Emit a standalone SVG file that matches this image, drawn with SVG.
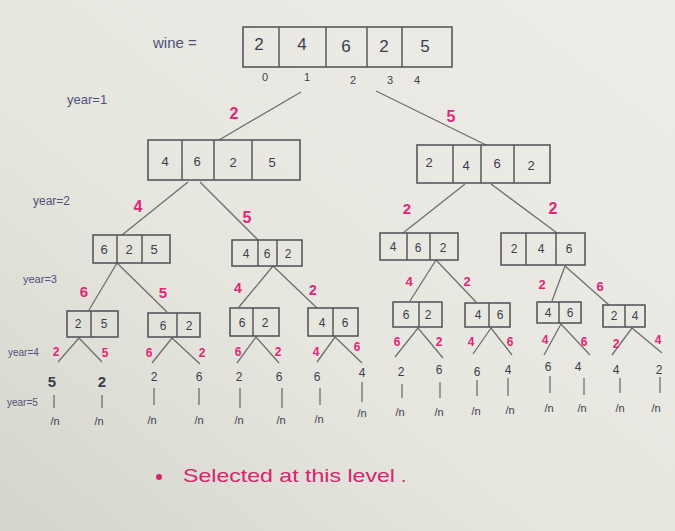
<svg xmlns="http://www.w3.org/2000/svg" width="675" height="531" viewBox="0 0 675 531">
<defs>
<linearGradient id="paper" x1="1" y1="0" x2="0" y2="1">
<stop offset="0" stop-color="#eeede8"/>
<stop offset="0.6" stop-color="#e6e5de"/>
<stop offset="1" stop-color="#d6d5cd"/>
</linearGradient>
<style>
.box{fill:none;stroke:#4e4e56;stroke-width:1.5}
.dv{stroke:#4e4e56;stroke-width:1.4}
.v{font-family:"Liberation Sans",Arial,sans-serif;fill:#3c3c4c;text-anchor:middle}
.v1{font-size:17px}
.v2{font-size:13px}
.v3{font-size:12px}
.e{stroke:#6e6e70;stroke-width:1.3;fill:none}
.l{font-family:"Liberation Sans",Arial,sans-serif;font-weight:bold;fill:#e0267a;text-anchor:middle}
.y{font-family:"Liberation Sans",Arial,sans-serif;fill:#50507a}
.n{font-family:"Liberation Sans",Arial,sans-serif;fill:#3c3c4c;font-size:11px;text-anchor:middle}
</style>
</defs>
<rect width="675" height="531" fill="url(#paper)"/>

<!-- labels not tied to nodes -->
<text class="y" x="153" y="48" font-size="15">wine =</text>
<text class="y" x="67" y="104" font-size="13">year=1</text>
<text class="y" x="33" y="205" font-size="12">year=2</text>
<text class="y" x="23" y="283" font-size="11">year=3</text>
<text class="y" x="8" y="356" font-size="10">year=4</text>
<text class="y" x="7" y="406" font-size="10">year=5</text>

<!-- connectors -->
<g id="connectors">
<line class="e" x1="301" y1="92" x2="219" y2="140"/>
<line class="e" x1="376" y1="91" x2="486" y2="145"/>
<line class="e" x1="188" y1="182" x2="122" y2="235"/>
<line class="e" x1="200" y1="182" x2="258" y2="240"/>
<line class="e" x1="465" y1="184" x2="403" y2="233"/>
<line class="e" x1="491" y1="184" x2="557" y2="233"/>
<line class="e" x1="117" y1="263" x2="89" y2="310"/>
<line class="e" x1="117" y1="263" x2="167" y2="312"/>
<line class="e" x1="273" y1="266" x2="239" y2="307"/>
<line class="e" x1="273" y1="266" x2="317" y2="308"/>
<line class="e" x1="436" y1="260" x2="410" y2="301"/>
<line class="e" x1="436" y1="260" x2="476" y2="302"/>
<line class="e" x1="565" y1="266" x2="552" y2="301"/>
<line class="e" x1="565" y1="266" x2="609" y2="305"/>
<polyline class="e" points="58,362 79,338 102,362"/>
<polyline class="e" points="152,363 172,338 200,364"/>
<polyline class="e" points="237,363 256,337 279,363"/>
<polyline class="e" points="317,362 335,337 362,363"/>
<polyline class="e" points="395,357 418,328 443,358"/>
<polyline class="e" points="473,354 491,328 512,355"/>
<polyline class="e" points="544,355 561,324 590,355"/>
<polyline class="e" points="612,355 632,328 662,353"/>
<line class="e" x1="54" y1="395" x2="54" y2="408"/>
<line class="e" x1="102" y1="395" x2="102" y2="408"/>
<line class="e" x1="154" y1="388" x2="154" y2="405"/>
<line class="e" x1="199" y1="388" x2="199" y2="405"/>
<line class="e" x1="240" y1="388" x2="240" y2="408"/>
<line class="e" x1="282" y1="388" x2="282" y2="408"/>
<line class="e" x1="320" y1="388" x2="320" y2="405"/>
<line class="e" x1="362" y1="382" x2="362" y2="402"/>
<line class="e" x1="402" y1="384" x2="402" y2="398"/>
<line class="e" x1="440" y1="382" x2="440" y2="398"/>
<line class="e" x1="477" y1="380" x2="477" y2="396"/>
<line class="e" x1="508" y1="378" x2="508" y2="396"/>
<line class="e" x1="550" y1="376" x2="550" y2="393"/>
<line class="e" x1="584" y1="378" x2="584" y2="395"/>
<line class="e" x1="620" y1="378" x2="620" y2="393"/>
<line class="e" x1="660" y1="377" x2="660" y2="393"/>
<!-- edge labels -->
<text class="l" x="234" y="119" font-size="16">2</text>
<text class="l" x="451" y="122" font-size="16">5</text>
<text class="l" x="138" y="212" font-size="16">4</text>
<text class="l" x="247" y="223" font-size="16">5</text>
<text class="l" x="407" y="214" font-size="15">2</text>
<text class="l" x="553" y="214" font-size="16">2</text>
<text class="l" x="84" y="297" font-size="15">6</text>
<text class="l" x="163" y="298" font-size="15">5</text>
<text class="l" x="238" y="293" font-size="14">4</text>
<text class="l" x="313" y="295" font-size="14">2</text>
<text class="l" x="409" y="286" font-size="13">4</text>
<text class="l" x="467" y="286" font-size="13">2</text>
<text class="l" x="542" y="289" font-size="13">2</text>
<text class="l" x="600" y="291" font-size="13">6</text>
<text class="l" x="56" y="356" font-size="12">2</text>
<text class="l" x="105" y="357" font-size="12">5</text>
<text class="l" x="149" y="357" font-size="12">6</text>
<text class="l" x="202" y="357" font-size="12">2</text>
<text class="l" x="238" y="356" font-size="12">6</text>
<text class="l" x="278" y="356" font-size="12">2</text>
<text class="l" x="316" y="356" font-size="12">4</text>
<text class="l" x="357" y="351" font-size="12">6</text>
<text class="l" x="397" y="346" font-size="12">6</text>
<text class="l" x="439" y="346" font-size="12">2</text>
<text class="l" x="471" y="346" font-size="12">4</text>
<text class="l" x="510" y="346" font-size="12">6</text>
<text class="l" x="545" y="344" font-size="12">4</text>
<text class="l" x="584" y="346" font-size="12">6</text>
<text class="l" x="616" y="348" font-size="12">2</text>
<text class="l" x="658" y="344" font-size="12">4</text>
</g>

<!-- root -->
<g id="root">
<rect class="box" x="243" y="27" width="209" height="40"/>
<line class="dv" x1="279" y1="27" x2="279" y2="67"/>
<line class="dv" x1="326" y1="27" x2="326" y2="67"/>
<line class="dv" x1="367" y1="27" x2="367" y2="67"/>
<line class="dv" x1="402" y1="27" x2="402" y2="67"/>
<text class="v v1" x="259" y="50">2</text>
<text class="v v1" x="302" y="50">4</text>
<text class="v v1" x="346" y="52">6</text>
<text class="v v1" x="384" y="52">2</text>
<text class="v v1" x="425" y="52">5</text>
<text class="n" x="265" y="81">0</text>
<text class="n" x="307" y="81">1</text>
<text class="n" x="353" y="84">2</text>
<text class="n" x="390" y="84">3</text>
<text class="n" x="417" y="84">4</text>
</g>

<!-- level 1 -->
<g id="n1">
<rect class="box" x="148" y="140" width="152" height="40"/>
<line class="dv" x1="182" y1="140" x2="182" y2="180"/>
<line class="dv" x1="214" y1="140" x2="214" y2="180"/>
<line class="dv" x1="252" y1="140" x2="252" y2="180"/>
<text class="v v2" x="165" y="166">4</text>
<text class="v v2" x="197" y="166">6</text>
<text class="v v2" x="233" y="167">2</text>
<text class="v v2" x="272" y="167">5</text>
</g>
<g id="n2">
<rect class="box" x="417" y="145" width="133" height="38"/>
<line class="dv" x1="453" y1="145" x2="453" y2="183"/>
<line class="dv" x1="481" y1="145" x2="481" y2="183"/>
<line class="dv" x1="514" y1="145" x2="514" y2="183"/>
<text class="v v2" x="429" y="167">2</text>
<text class="v v2" x="466" y="170">4</text>
<text class="v v2" x="497" y="168">6</text>
<text class="v v2" x="531" y="170">2</text>
</g>

<!-- level 2 -->
<g id="n11">
<rect class="box" x="93" y="235" width="77" height="28"/>
<line class="dv" x1="117" y1="235" x2="117" y2="263"/>
<line class="dv" x1="142" y1="235" x2="142" y2="263"/>
<text class="v v2" x="104" y="254">6</text>
<text class="v v2" x="129" y="254">2</text>
<text class="v v2" x="154" y="254">5</text>
</g>
<g id="n12">
<rect class="box" x="232" y="240" width="70" height="26"/>
<line class="dv" x1="258" y1="240" x2="258" y2="266"/>
<line class="dv" x1="277" y1="240" x2="277" y2="266"/>
<text class="v v3" x="246" y="258">4</text>
<text class="v v3" x="267" y="258">6</text>
<text class="v v3" x="288" y="258">2</text>
</g>
<g id="n21">
<rect class="box" x="380" y="233" width="78" height="27"/>
<line class="dv" x1="407" y1="233" x2="407" y2="260"/>
<line class="dv" x1="430" y1="233" x2="430" y2="260"/>
<text class="v v3" x="393" y="251">4</text>
<text class="v v3" x="418" y="252">6</text>
<text class="v v3" x="443" y="252">2</text>
</g>
<g id="n22">
<rect class="box" x="501" y="233" width="84" height="32"/>
<line class="dv" x1="526" y1="233" x2="526" y2="265"/>
<line class="dv" x1="556" y1="233" x2="556" y2="265"/>
<text class="v v3" x="514" y="253">2</text>
<text class="v v3" x="541" y="253">4</text>
<text class="v v3" x="569" y="253">6</text>
</g>

<!-- level 3 -->
<g id="n111">
<rect class="box" x="67" y="311" width="51" height="26"/>
<line class="dv" x1="91" y1="311" x2="91" y2="337"/>
<text class="v v3" x="78" y="328">2</text>
<text class="v v3" x="104" y="328">5</text>
</g>
<g id="n112">
<rect class="box" x="148" y="313" width="52" height="24"/>
<line class="dv" x1="177" y1="313" x2="177" y2="337"/>
<text class="v v3" x="163" y="330">6</text>
<text class="v v3" x="189" y="330">2</text>
</g>
<g id="n121">
<rect class="box" x="230" y="308" width="49" height="28"/>
<line class="dv" x1="253" y1="308" x2="253" y2="336"/>
<text class="v v3" x="242" y="327">6</text>
<text class="v v3" x="265" y="327">2</text>
</g>
<g id="n122">
<rect class="box" x="308" y="308" width="50" height="28"/>
<line class="dv" x1="333" y1="308" x2="333" y2="336"/>
<text class="v v3" x="322" y="327">4</text>
<text class="v v3" x="345" y="327">6</text>
</g>
<g id="n211">
<rect class="box" x="393" y="302" width="49" height="25"/>
<line class="dv" x1="419" y1="302" x2="419" y2="327"/>
<text class="v v3" x="406" y="319">6</text>
<text class="v v3" x="428" y="319">2</text>
</g>
<g id="n212">
<rect class="box" x="465" y="303" width="45" height="24"/>
<line class="dv" x1="489" y1="303" x2="489" y2="327"/>
<text class="v v3" x="478" y="319">4</text>
<text class="v v3" x="500" y="319">6</text>
</g>
<g id="n221">
<rect class="box" x="537" y="302" width="44" height="21"/>
<line class="dv" x1="559" y1="302" x2="559" y2="323"/>
<text class="v v3" x="548" y="317" fill="#33337a">4</text>
<text class="v v3" x="570" y="317">6</text>
</g>
<g id="n222">
<rect class="box" x="603" y="305" width="42" height="22"/>
<line class="dv" x1="625" y1="305" x2="625" y2="327"/>
<text class="v v3" x="614" y="320">2</text>
<text class="v v3" x="635" y="320">4</text>
</g>

<!-- leaves -->
<g id="leaf1"><text class="v" x="52" y="387" font-size="15" font-weight="bold" fill="#2c2c44">5</text><text class="n" x="55" y="425">/n</text></g>
<g id="leaf2"><text class="v" x="102" y="387" font-size="15" font-weight="bold" fill="#2c2c44">2</text><text class="n" x="99" y="425">/n</text></g>
<g id="leaf3"><text class="v v3" x="154" y="381">2</text><text class="n" x="152" y="424">/n</text></g>
<g id="leaf4"><text class="v v3" x="199" y="381">6</text><text class="n" x="199" y="424">/n</text></g>
<g id="leaf5"><text class="v v3" x="239" y="381">2</text><text class="n" x="239" y="424">/n</text></g>
<g id="leaf6"><text class="v v3" x="279" y="381">6</text><text class="n" x="281" y="424">/n</text></g>
<g id="leaf7"><text class="v v3" x="317" y="381">6</text><text class="n" x="319" y="423">/n</text></g>
<g id="leaf8"><text class="v v3" x="362" y="377">4</text><text class="n" x="362" y="417">/n</text></g>
<g id="leaf9"><text class="v v3" x="401" y="376">2</text><text class="n" x="400" y="416">/n</text></g>
<g id="leaf10"><text class="v v3" x="439" y="374">6</text><text class="n" x="439" y="416">/n</text></g>
<g id="leaf11"><text class="v v3" x="477" y="376">6</text><text class="n" x="476" y="415">/n</text></g>
<g id="leaf12"><text class="v v3" x="508" y="374">4</text><text class="n" x="510" y="414">/n</text></g>
<g id="leaf13"><text class="v v3" x="548" y="371">6</text><text class="n" x="549" y="412">/n</text></g>
<g id="leaf14"><text class="v v3" x="578" y="371">4</text><text class="n" x="582" y="412">/n</text></g>
<g id="leaf15"><text class="v v3" x="616" y="374">4</text><text class="n" x="620" y="412">/n</text></g>
<g id="leaf16"><text class="v v3" x="659" y="374">2</text><text class="n" x="656" y="412">/n</text></g>

<!-- legend -->
<g id="legend">
<circle cx="159" cy="477" r="3" fill="#d6246e"/>
<text x="183" y="482" font-family="'Liberation Sans',Arial,sans-serif" font-size="19" fill="#d6246e" textLength="212" lengthAdjust="spacingAndGlyphs">Selected at this level</text>
<text x="401" y="482" font-family="'Liberation Sans',Arial,sans-serif" font-size="19" fill="#d6246e">.</text>
</g>
</svg>
